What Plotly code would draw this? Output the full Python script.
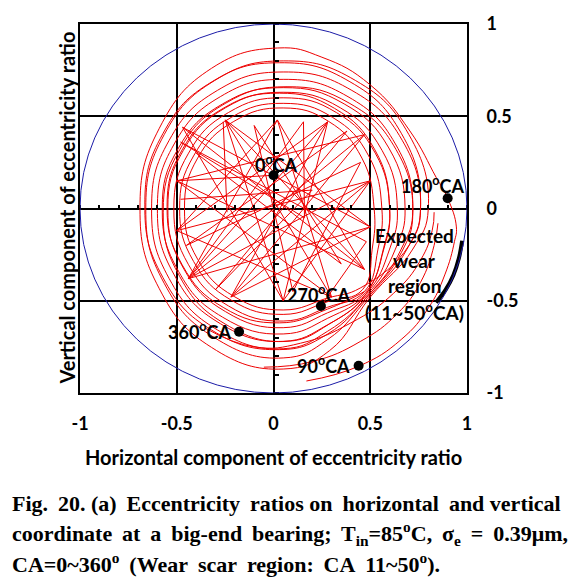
import plotly.graph_objects as go

# ---------------- data ----------------
tick_vals = [-1, -0.5, 0, 0.5, 1]
tick_text = ["-1", "-0.5", "0", "0.5", "1"]
clearance_radius = 1.0

# outermost sweep: bottom -> along wear region -> 180CA -> over the top -> around to the waist
outer_x = [0.17, 0.44, 0.66, 0.80, 0.885, 0.935, 0.945, 0.90, 0.84, 0.705, 0.50, 0.25, 0.02,
           -0.32, -0.59, -0.69, -0.59, -0.32, 0.05, 0.29, 0.50]
outer_y = [-0.935, -0.855, -0.71, -0.54, -0.36, -0.18, -0.10, 0.056, 0.17, 0.42, 0.67, 0.82, 0.87,
           0.76, 0.435, 0.0, -0.435, -0.753, -0.87, -0.77, -0.48]

# chained orbit loops (each: right-lower, E, 30, 60, N, 120, 150, W, 210, 240, S, SE, waist)
loops_x = [0.72, 0.80, 0.70, 0.425, 0.05, -0.305, -0.565, -0.66, -0.565, -0.305, 0.05, 0.28, 0.495,
           0.69, 0.76, 0.665, 0.405, 0.05, -0.29, -0.539, -0.63, -0.539, -0.29, 0.05, 0.28, 0.49,
           0.66, 0.72, 0.63, 0.385, 0.05, -0.275, -0.513, -0.60, -0.513, -0.275, 0.05, 0.28, 0.485,
           0.63, 0.68, 0.596, 0.365, 0.05, -0.263, -0.491, -0.575, -0.491, -0.263, 0.05, 0.28, 0.48,
           0.60, 0.64, 0.561, 0.345, 0.05, -0.248, -0.466, -0.546, -0.466, -0.248, 0.05, 0.28, 0.475,
           0.57, 0.60, 0.526, 0.325, 0.05, -0.233, -0.439, -0.515, -0.439, -0.233, 0.05, 0.28, 0.47,
           0.54, 0.56, 0.492, 0.305, 0.05, -0.218, -0.413, -0.485, -0.413, -0.218, 0.05, 0.28, 0.46,
           0.51, 0.52, 0.457, 0.285, 0.05, -0.205, -0.392, -0.46, -0.392, -0.205, 0.05, 0.28, 0.45,
           0.70, 0.76, 0.662, 0.395, 0.03, -0.318, -0.572, -0.665, -0.572, -0.318, 0.03, 0.28, 0.49,
           0.66, 0.72, 0.633, 0.395, 0.07, -0.25, -0.484, -0.57, -0.484, -0.25, 0.07, 0.29, 0.48,
           0.57, 0.60, 0.524, 0.315, 0.03, -0.26, -0.472, -0.55, -0.472, -0.26, 0.03, 0.28, 0.47]
loops_y = [-0.22, 0.0, 0.40, 0.693, 0.80, 0.693, 0.40, 0.0, -0.405, -0.70, -0.81, -0.71, -0.475,
           -0.22, 0.0, 0.37, 0.64, 0.74, 0.64, 0.37, 0.0, -0.38, -0.658, -0.76, -0.665, -0.47,
           -0.22, 0.0, 0.35, 0.606, 0.70, 0.606, 0.35, 0.0, -0.36, -0.624, -0.72, -0.63, -0.465,
           -0.22, 0.0, 0.328, 0.567, 0.655, 0.567, 0.328, 0.0, -0.34, -0.589, -0.68, -0.595, -0.46,
           -0.22, 0.0, 0.315, 0.546, 0.63, 0.546, 0.315, 0.0, -0.323, -0.559, -0.646, -0.565, -0.455,
           -0.22, 0.0, 0.30, 0.52, 0.60, 0.52, 0.30, 0.0, -0.305, -0.528, -0.61, -0.535, -0.45,
           -0.22, 0.0, 0.285, 0.494, 0.57, 0.494, 0.285, 0.0, -0.287, -0.497, -0.574, -0.505, -0.44,
           -0.22, 0.0, 0.273, 0.472, 0.545, 0.472, 0.273, 0.0, -0.275, -0.476, -0.55, -0.485, -0.43,
           -0.20, 0.02, 0.405, 0.687, 0.79, 0.687, 0.405, 0.02, -0.373, -0.66, -0.765, -0.68, -0.47,
           -0.24, -0.02, 0.32, 0.569, 0.66, 0.569, 0.32, -0.02, -0.37, -0.626, -0.72, -0.625, -0.46,
           -0.21, 0.01, 0.318, 0.543, 0.625, 0.543, 0.318, 0.01, -0.305, -0.536, -0.62, -0.545, -0.45]

# lower-right tails
tail_a_x = [-0.35, -0.10, 0.14, 0.40, 0.62, 0.76, 0.82, 0.83]
tail_a_y = [-0.65, -0.75, -0.73, -0.62, -0.46, -0.28, -0.12, -0.02]
tail_c_x = [-0.05, 0.20, 0.45, 0.64, 0.76, 0.83, 0.85]
tail_c_y = [-0.86, -0.83, -0.72, -0.57, -0.40, -0.20, -0.08]

# interior chords (straight web)
chord_a_x = [-0.47, 0.50, -0.22, 0.28, -0.50, 0.30, 0.02, -0.44, 0.50, 0.05, -0.25, 0.47, -0.50, 0.47]
chord_a_y = [0.44, -0.10, -0.48, 0.47, -0.12, -0.48, 0.48, -0.38, 0.15, -0.50, 0.48, -0.33, 0.15, 0.40]
chord_b_x = [0.47, -0.44, 0.28, 0.05, -0.47, 0.47, 0.02, -0.50, 0.50, -0.22, 0.47]
chord_b_y = [0.40, -0.38, 0.47, -0.50, 0.44, -0.33, 0.48, -0.12, 0.15, -0.48, 0.40]
chord_c_x = [0.0, -0.50, 0.30, -0.25, 0.50, -0.44, 0.155, 0.16, -0.48, 0.48, 0.245]
chord_c_y = [0.18, 0.15, -0.48, 0.48, -0.10, -0.38, 0.47, -0.05, 0.36, -0.18, -0.53]
chord_d_x = [-0.26, -0.24]
chord_d_y = [0.47, -0.02]
chord_e_x = [-0.40, 0.35, -0.10, 0.10, 0.45, -0.45, 0.38, -0.30, 0.20, -0.48]
chord_e_y = [0.30, -0.30, 0.45, -0.45, 0.25, -0.20, 0.42, -0.44, 0.10, 0.05]

# crank-angle markers
ca_values = ["0", "90", "180", "270", "360"]
ca_x = [0.0, 0.44, 0.90, 0.245, -0.178]
ca_y = [0.18, -0.852, 0.056, -0.528, -0.668]

# expected wear region arc
wear_x = [0.975, 0.958, 0.93, 0.89, 0.84]
wear_y = [-0.175, -0.27, -0.36, -0.44, -0.51]

# ---------------- figure ----------------
RED = "rgb(238,0,0)"
SANS = "Lato"
fig = go.Figure()

spline = dict(color=RED, width=1, shape="spline", smoothing=1.3)
fig.add_trace(go.Scatter(x=outer_x + loops_x, y=outer_y + loops_y,
                         mode="lines", line=spline, hoverinfo="skip"))
fig.add_trace(go.Scatter(x=tail_a_x + [None] + tail_c_x, y=tail_a_y + [None] + tail_c_y,
                         mode="lines", line=spline, hoverinfo="skip"))
chords_x = chord_a_x + [None] + chord_b_x + [None] + chord_c_x + [None] + chord_d_x + [None] + chord_e_x
chords_y = chord_a_y + [None] + chord_b_y + [None] + chord_c_y + [None] + chord_d_y + [None] + chord_e_y
fig.add_trace(go.Scatter(x=chords_x, y=chords_y, mode="lines",
                         line=dict(color=RED, width=1), hoverinfo="skip"))
fig.add_trace(go.Scatter(x=wear_x, y=wear_y, mode="lines",
                         line=dict(color="black", width=4, shape="spline"), hoverinfo="skip"))
fig.add_trace(go.Scatter(x=ca_x, y=ca_y, mode="markers",
                         marker=dict(color="black", size=10), hoverinfo="skip"))
# invisible trace to activate the crossing minor-tick axes
fig.add_trace(go.Scatter(x=[0], y=[0], xaxis="x2", yaxis="y2", mode="markers",
                         marker=dict(opacity=0), hoverinfo="skip"))

fig.add_shape(type="circle", xref="x", yref="y",
              x0=-clearance_radius, y0=-clearance_radius, x1=clearance_radius, y1=clearance_radius,
              line=dict(color="#1c1ca8", width=1), layer="above")

axis_common = dict(range=[-1, 1], tickvals=tick_vals, ticktext=tick_text, showgrid=True,
                   gridcolor="black", gridwidth=2, zeroline=True, zerolinecolor="black",
                   zerolinewidth=2, showline=True, mirror=True, linecolor="black", linewidth=2,
                   ticks="", tickfont=dict(family=SANS, size=18, color="black", weight="bold"),
                   fixedrange=True)
minor_axis = dict(anchor="free", position=0.5, range=[-1, 1], tickmode="linear", tick0=0,
                  dtick=0.1, ticks="outside", ticklen=4, tickwidth=1.5, tickcolor="black",
                  showticklabels=False, showgrid=False, zeroline=False, showline=False,
                  fixedrange=True)
fig.update_layout(
    width=577, height=577, margin=dict(l=80, r=110, t=22, b=184),
    paper_bgcolor="white", plot_bgcolor="white", showlegend=False,
    xaxis=dict(**axis_common, ticklabelstandoff=13),
    yaxis=dict(**axis_common, side="right", ticklabelstandoff=14),
    xaxis2=dict(**minor_axis, overlaying="x", side="top"),
    yaxis2=dict(**minor_axis, overlaying="y", side="right"),
)

lab_font = dict(family=SANS, size=18, color="black", weight="bold")
label_pos = {"0": (0.013, 0.24), "90": (0.256, -0.849), "180": (0.824, 0.127),
             "270": (0.23, -0.461), "360": (-0.38, -0.666)}
for v in ca_values:
    lx, ly = label_pos[v]
    fig.add_annotation(x=lx, y=ly, xref="x", yref="y", text=f"{v}<sup>o</sup>CA",
                       showarrow=False, font=lab_font, xanchor="center", yanchor="middle")

wear_font = dict(family=SANS, size=19, color="black", weight="bold")
wear_lines = ["Expected", "wear", "region", "(11~50<sup>o</sup>CA)"]
wear_line_y = [-0.148, -0.283, -0.418, -0.558]
for t, yy in zip(wear_lines, wear_line_y):
    fig.add_annotation(x=0.728, y=yy, xref="x", yref="y", text=t, showarrow=False,
                       font=wear_font, xanchor="center", yanchor="middle")

title_font = dict(family=SANS, size=20, color="black", weight="bold")
fig.add_annotation(x=-0.036, y=0.5, xref="paper", yref="paper",
                   text="Vertical component of eccentricity ratio", textangle=-90,
                   showarrow=False, font=title_font, xanchor="center", yanchor="middle")
fig.add_annotation(x=0.5, y=-0.173, xref="paper", yref="paper",
                   text="Horizontal component of eccentricity ratio",
                   showarrow=False, font=title_font, xanchor="center", yanchor="middle")

TS = "\u2009"  # thin space used to justify the caption lines
cap_font = dict(family="Liberation Serif", size=22, color="black", weight="bold")
caption = [
    f"Fig.{TS} 20. (a){TS} Eccentricity{TS} ratios on{TS} horizontal{TS} and vertical",
    f"coordinate{TS} at{TS} a{TS} big-end{TS} bearing;{TS} T<sub>in</sub>=85<sup>o</sup>C,{TS} "
    f"σ<sub>e</sub>{TS} ={TS} 0.39μm,",
    f"CA=0~360<sup>o</sup>{TS} (Wear{TS} scar{TS} region:{TS} CA{TS} 11~50<sup>o</sup>).",
]
cap_y = [-0.299, -0.382, -0.461]
for t, yy in zip(caption, cap_y):
    fig.add_annotation(x=(10 - 80) / 387, y=yy, xref="paper", yref="paper", text=t,
                       showarrow=False, font=cap_font, xanchor="left", yanchor="middle")

fig.write_html("out.html", config={"displayModeBar": False},
               post_script="document.body.style.margin='0';")
